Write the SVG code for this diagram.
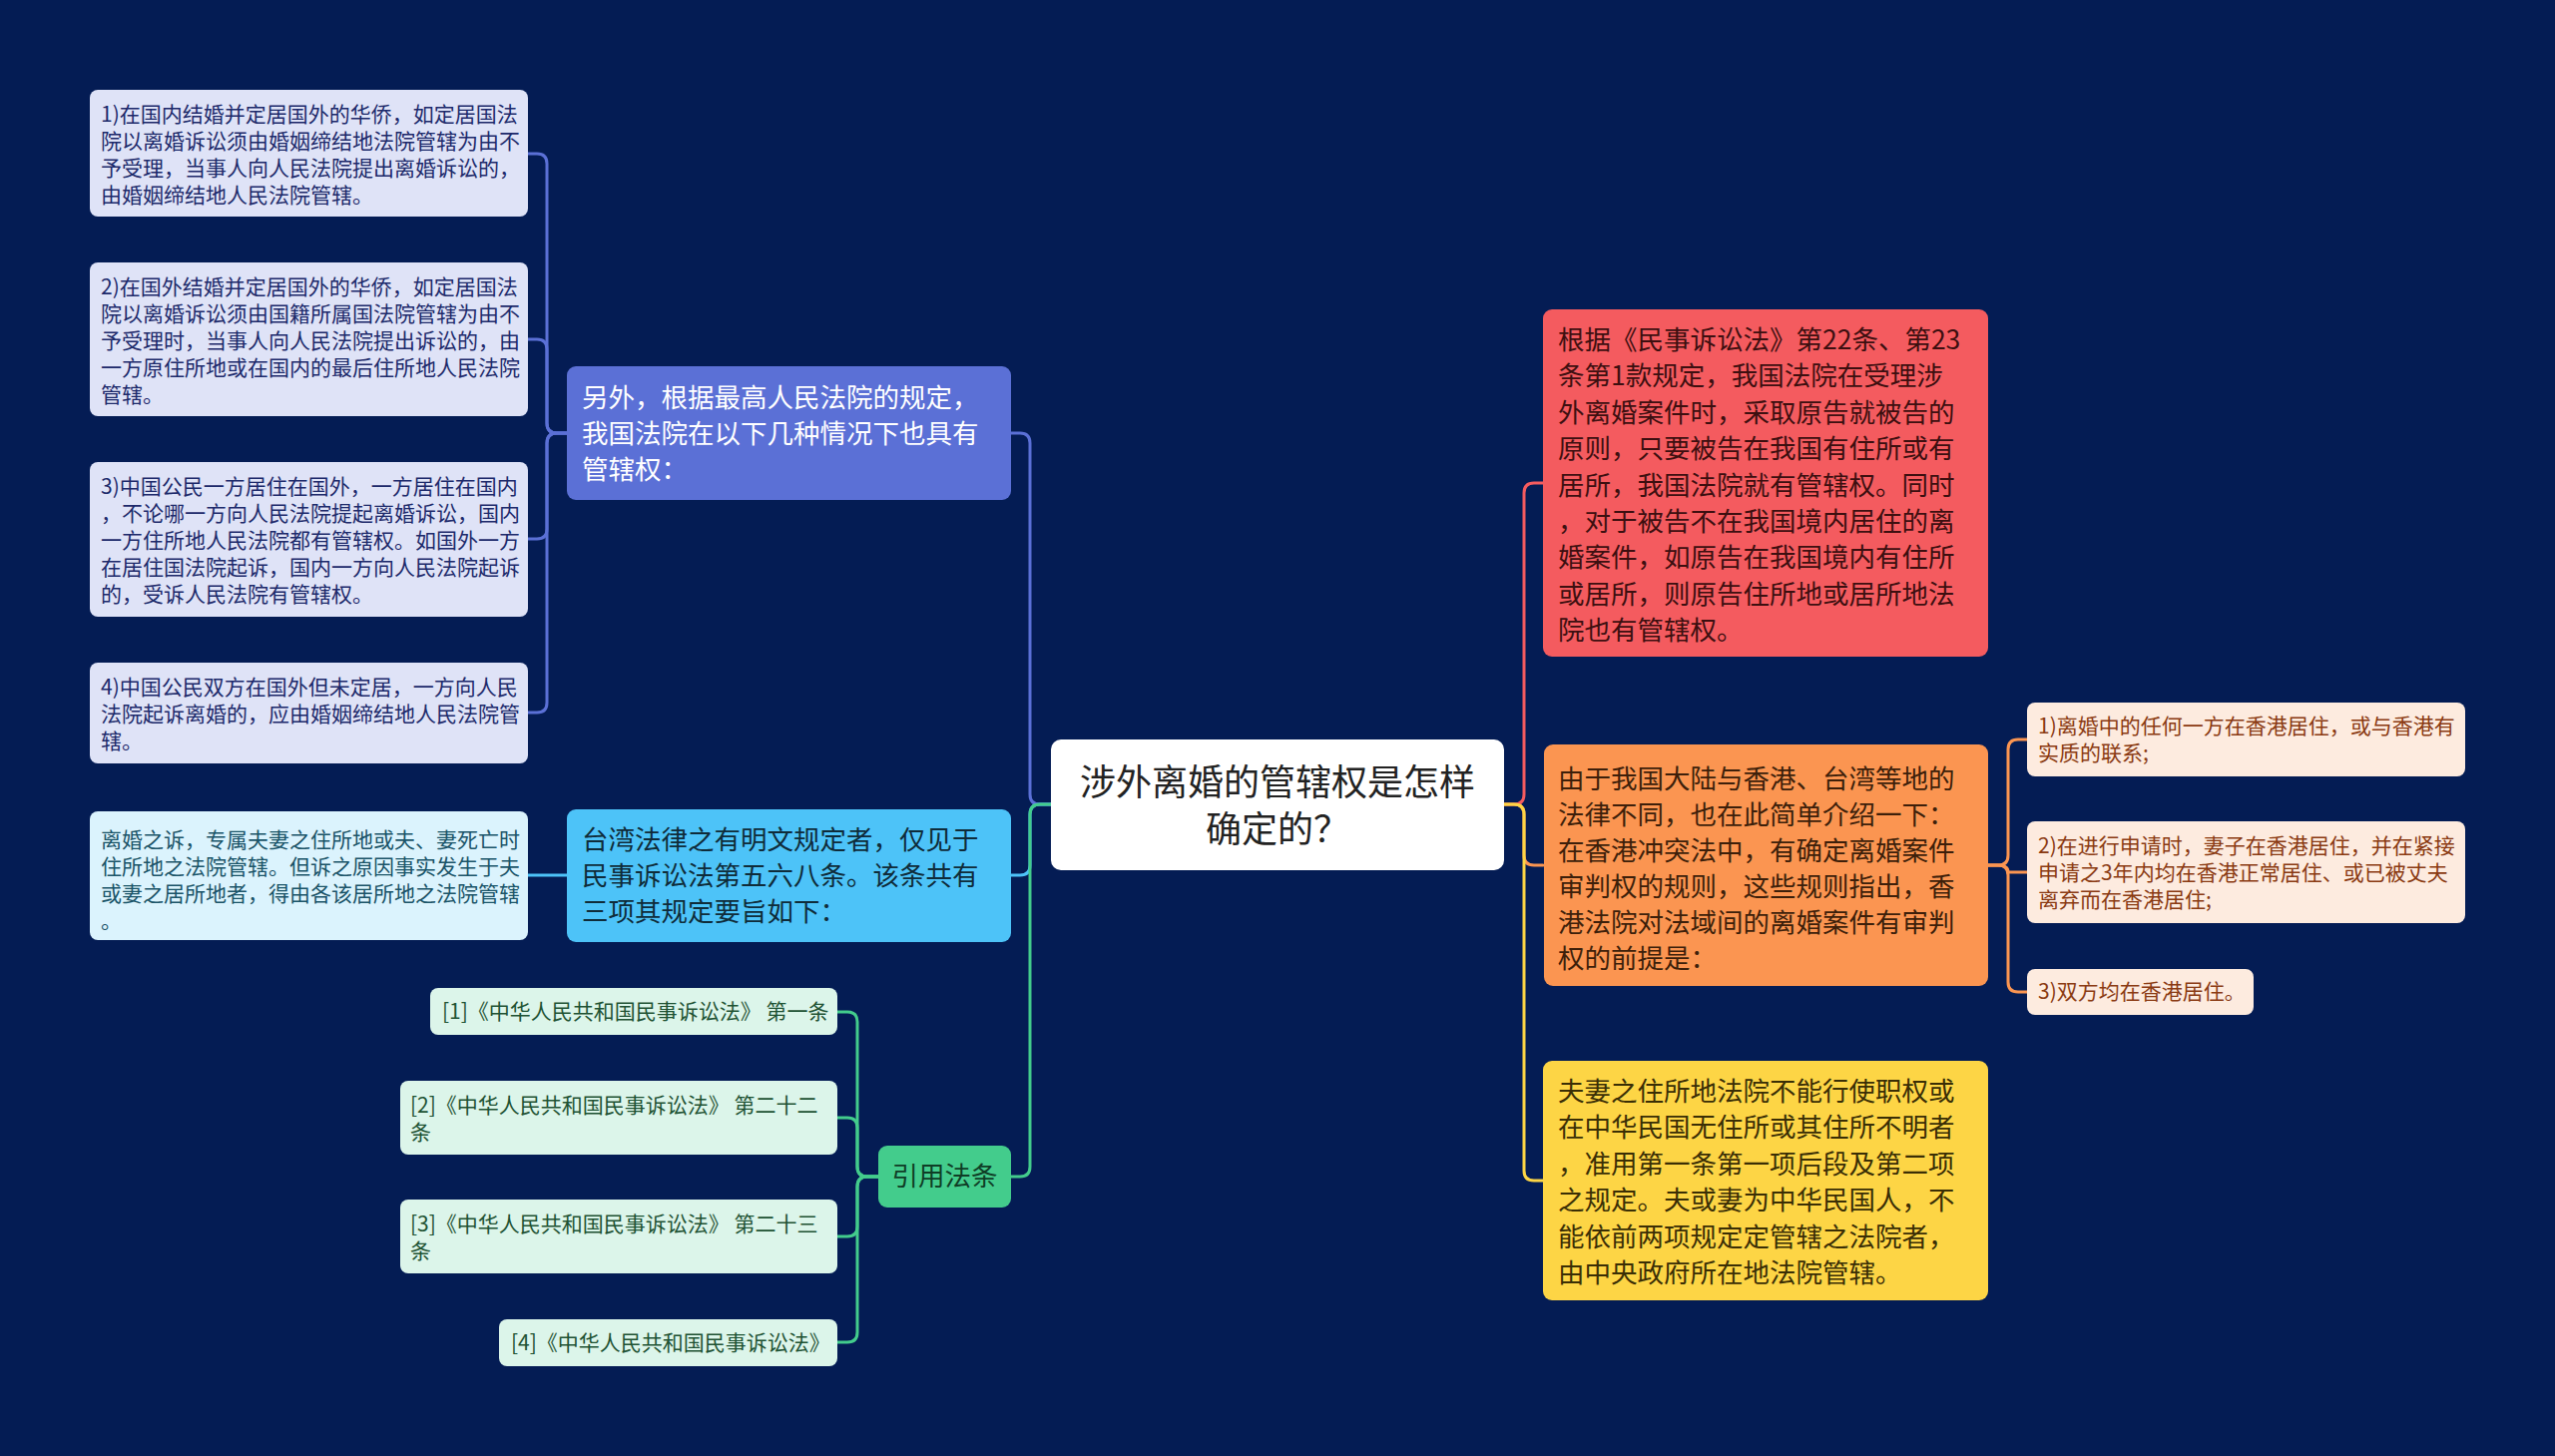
<svg xmlns="http://www.w3.org/2000/svg" width="2560" height="1459" viewBox="0 0 2560 1459">
<style>
text{font-family:"Noto Sans CJK SC","Noto Sans",sans-serif;dominant-baseline:central}
.leaf{font-size:21px;transform:translateY(-2px)}
.main{font-size:26.5px;transform:translateY(-4px)}
.root{font-size:36px;fill:#222;transform:translateY(-2px)}
.c{fill:none;stroke-width:3;stroke-linecap:round}
</style>
<rect width="2560" height="1459" fill="#041c54"/>
<g id="connectors">
<path class="c" stroke="#5b70d6" d="M1053,806 H1042 Q1032,806 1032,796 V444 Q1032,434 1022,434 H1013"/>
<path class="c" stroke="#4dc3f8" d="M1053,806 H1042 Q1032,806 1032,816 V867 Q1032,877 1022,877 H1013"/>
<path class="c" stroke="#43cc8c" d="M1053,806 H1042 Q1032,806 1032,816 V1169 Q1032,1179 1022,1179 H1013"/>
<path class="c" stroke="#5b70d6" d="M568,434 H558 Q548,434 548,424 V164 Q548,154 538,154 H529"/>
<path class="c" stroke="#5b70d6" d="M568,434 H558 Q548,434 548,424 V350 Q548,340 538,340 H529"/>
<path class="c" stroke="#5b70d6" d="M568,434 H558 Q548,434 548,444 V530 Q548,540 538,540 H529"/>
<path class="c" stroke="#5b70d6" d="M568,434 H558 Q548,434 548,444 V704 Q548,714 538,714 H529"/>
<path class="c" stroke="#4dc3f8" d="M568,877 H529"/>
<path class="c" stroke="#43cc8c" d="M880,1179 H869 Q859,1179 859,1169 V1024 Q859,1014 849,1014 H839"/>
<path class="c" stroke="#43cc8c" d="M880,1179 H869 Q859,1179 859,1169 V1130 Q859,1120 849,1120 H839"/>
<path class="c" stroke="#43cc8c" d="M880,1179 H869 Q859,1179 859,1189 V1229 Q859,1239 849,1239 H839"/>
<path class="c" stroke="#43cc8c" d="M880,1179 H869 Q859,1179 859,1189 V1335 Q859,1345 849,1345 H839"/>
<path class="c" stroke="#f45b5f" d="M1507,806 H1517 Q1527,806 1527,796 V494 Q1527,484 1537,484 H1546"/>
<path class="c" stroke="#fb9551" d="M1507,806 H1517 Q1527,806 1527,816 V857 Q1527,867 1537,867 H1546"/>
<path class="c" stroke="#fdd545" d="M1507,806 H1517 Q1527,806 1527,816 V1173 Q1527,1183 1537,1183 H1546"/>
<path class="c" stroke="#fb9551" d="M1992,867 H2002 Q2012,867 2012,857 V751 Q2012,741 2022,741 H2031"/>
<path class="c" stroke="#fb9551" d="M1992,867 H2002 Q2012,867 2012,874 Q2012,874 2022,874 H2031"/>
<path class="c" stroke="#fb9551" d="M1992,867 H2002 Q2012,867 2012,877 V984 Q2012,994 2022,994 H2031"/>
</g>
<g id="root">
<rect x="1053" y="741" width="454" height="131" rx="10" fill="#ffffff"/>
<text class="root" text-anchor="middle"><tspan x="1280" y="783">涉外离婚的管辖权是怎样</tspan><tspan x="1280" y="830">确定的？</tspan></text>
</g>
<g id="n-blue">
<rect x="568" y="367" width="445" height="134" rx="9" fill="#5b70d6"/>
<text class="main" fill="#ffffff"><tspan x="583" y="400">另外，根据最高人民法院的规定，</tspan><tspan x="583" y="436">我国法院在以下几种情况下也具有</tspan><tspan x="583" y="472">管辖权：</tspan></text>
</g>
<g id="leaf-b1">
<rect x="90" y="90" width="439" height="127" rx="8" fill="#dfe3f7"/>
<text class="leaf" fill="#1d2a6b"><tspan x="101" y="115">1)在国内结婚并定居国外的华侨，如定居国法</tspan><tspan x="101" y="142">院以离婚诉讼须由婚姻缔结地法院管辖为由不</tspan><tspan x="101" y="169">予受理，当事人向人民法院提出离婚诉讼的，</tspan><tspan x="101" y="196">由婚姻缔结地人民法院管辖。</tspan></text>
</g>
<g id="leaf-b2">
<rect x="90" y="263" width="439" height="154" rx="8" fill="#dfe3f7"/>
<text class="leaf" fill="#1d2a6b"><tspan x="101" y="288">2)在国外结婚并定居国外的华侨，如定居国法</tspan><tspan x="101" y="315">院以离婚诉讼须由国籍所属国法院管辖为由不</tspan><tspan x="101" y="342">予受理时，当事人向人民法院提出诉讼的，由</tspan><tspan x="101" y="369">一方原住所地或在国内的最后住所地人民法院</tspan><tspan x="101" y="396">管辖。</tspan></text>
</g>
<g id="leaf-b3">
<rect x="90" y="463" width="439" height="155" rx="8" fill="#dfe3f7"/>
<text class="leaf" fill="#1d2a6b"><tspan x="101" y="488">3)中国公民一方居住在国外，一方居住在国内</tspan><tspan x="101" y="515">，不论哪一方向人民法院提起离婚诉讼，国内</tspan><tspan x="101" y="542">一方住所地人民法院都有管辖权。如国外一方</tspan><tspan x="101" y="569">在居住国法院起诉，国内一方向人民法院起诉</tspan><tspan x="101" y="596">的，受诉人民法院有管辖权。</tspan></text>
</g>
<g id="leaf-b4">
<rect x="90" y="664" width="439" height="101" rx="8" fill="#dfe3f7"/>
<text class="leaf" fill="#1d2a6b"><tspan x="101" y="689">4)中国公民双方在国外但未定居，一方向人民</tspan><tspan x="101" y="716">法院起诉离婚的，应由婚姻缔结地人民法院管</tspan><tspan x="101" y="743">辖。</tspan></text>
</g>
<g id="n-taiwan">
<rect x="568" y="811" width="445" height="133" rx="9" fill="#4dc3f8"/>
<text class="main" fill="#0f2c3a"><tspan x="583" y="843">台湾法律之有明文规定者，仅见于</tspan><tspan x="583" y="879">民事诉讼法第五六八条。该条共有</tspan><tspan x="583" y="915">三项其规定要旨如下：</tspan></text>
</g>
<g id="leaf-t1">
<rect x="90" y="813" width="439" height="129" rx="8" fill="#dbf3fd"/>
<text class="leaf" fill="#1a5468"><tspan x="101" y="842">离婚之诉，专属夫妻之住所地或夫、妻死亡时</tspan><tspan x="101" y="869">住所地之法院管辖。但诉之原因事实发生于夫</tspan><tspan x="101" y="896">或妻之居所地者，得由各该居所地之法院管辖</tspan><tspan x="101" y="923">。</tspan></text>
</g>
<g id="n-green">
<rect x="880" y="1148" width="133" height="62" rx="9" fill="#43cc8c"/>
<text class="main" fill="#0f3d26" text-anchor="middle" x="946.5" y="1180">引用法条</text>
</g>
<g id="leaf-g1">
<rect x="431" y="990" width="408" height="47" rx="8" fill="#dcf5ea"/>
<text class="leaf" fill="#1e5233" x="443" y="1014">[1]《中华人民共和国民事诉讼法》 第一条</text>
</g>
<g id="leaf-g2">
<rect x="401" y="1083" width="438" height="74" rx="8" fill="#dcf5ea"/>
<text class="leaf" fill="#1e5233"><tspan x="411" y="1108">[2]《中华人民共和国民事诉讼法》 第二十二</tspan><tspan x="411" y="1135">条</tspan></text>
</g>
<g id="leaf-g3">
<rect x="401" y="1202" width="438" height="74" rx="8" fill="#dcf5ea"/>
<text class="leaf" fill="#1e5233"><tspan x="411" y="1227">[3]《中华人民共和国民事诉讼法》 第二十三</tspan><tspan x="411" y="1254">条</tspan></text>
</g>
<g id="leaf-g4">
<rect x="500" y="1322" width="339" height="47" rx="8" fill="#dcf5ea"/>
<text class="leaf" fill="#1e5233" x="512" y="1346">[4]《中华人民共和国民事诉讼法》</text>
</g>
<g id="n-red">
<rect x="1546" y="310" width="446" height="348" rx="9" fill="#f45b5f"/>
<text class="main" fill="#3d0f10"><tspan x="1561" y="342">根据《民事诉讼法》第22条、第23</tspan><tspan x="1561" y="378.4">条第1款规定，我国法院在受理涉</tspan><tspan x="1561" y="414.8">外离婚案件时，采取原告就被告的</tspan><tspan x="1561" y="451.2">原则，只要被告在我国有住所或有</tspan><tspan x="1561" y="487.6">居所，我国法院就有管辖权。同时</tspan><tspan x="1561" y="524">，对于被告不在我国境内居住的离</tspan><tspan x="1561" y="560.4">婚案件，如原告在我国境内有住所</tspan><tspan x="1561" y="596.8">或居所，则原告住所地或居所地法</tspan><tspan x="1561" y="633.2">院也有管辖权。</tspan></text>
</g>
<g id="n-orange">
<rect x="1547" y="746" width="445" height="242" rx="9" fill="#fb9551"/>
<text class="main" fill="#3d1f0a"><tspan x="1561" y="782">由于我国大陆与香港、台湾等地的</tspan><tspan x="1561" y="818">法律不同，也在此简单介绍一下：</tspan><tspan x="1561" y="854">在香港冲突法中，有确定离婚案件</tspan><tspan x="1561" y="890">审判权的规则，这些规则指出，香</tspan><tspan x="1561" y="926">港法院对法域间的离婚案件有审判</tspan><tspan x="1561" y="962">权的前提是：</tspan></text>
</g>
<g id="leaf-o1">
<rect x="2031" y="704" width="439" height="74" rx="8" fill="#fdebdf"/>
<text class="leaf" fill="#8a3a12"><tspan x="2042" y="728">1)离婚中的任何一方在香港居住，或与香港有</tspan><tspan x="2042" y="755">实质的联系;</tspan></text>
</g>
<g id="leaf-o2">
<rect x="2031" y="823" width="439" height="102" rx="8" fill="#fdebdf"/>
<text class="leaf" fill="#8a3a12"><tspan x="2042" y="848">2)在进行申请时，妻子在香港居住，并在紧接</tspan><tspan x="2042" y="875">申请之3年内均在香港正常居住、或已被丈夫</tspan><tspan x="2042" y="902">离弃而在香港居住;</tspan></text>
</g>
<g id="leaf-o3">
<rect x="2031" y="971" width="227" height="46" rx="8" fill="#fdebdf"/>
<text class="leaf" fill="#8a3a12" x="2042" y="994">3)双方均在香港居住。</text>
</g>
<g id="n-yellow">
<rect x="1546" y="1063" width="446" height="240" rx="9" fill="#fdd545"/>
<text class="main" fill="#3a2e05"><tspan x="1561" y="1095">夫妻之住所地法院不能行使职权或</tspan><tspan x="1561" y="1131.4">在中华民国无住所或其住所不明者</tspan><tspan x="1561" y="1167.8">，准用第一条第一项后段及第二项</tspan><tspan x="1561" y="1204.2">之规定。夫或妻为中华民国人，不</tspan><tspan x="1561" y="1240.6">能依前两项规定定管辖之法院者，</tspan><tspan x="1561" y="1277">由中央政府所在地法院管辖。</tspan></text>
</g>
</svg>
